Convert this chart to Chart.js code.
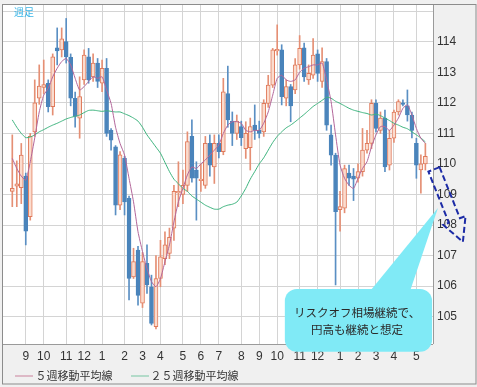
<!DOCTYPE html>
<html>
<head>
<meta charset="utf-8">
<script src="https://cdn.jsdelivr.net/npm/chart.js@4.4.0/dist/chart.umd.min.js"></script>
<style>
  html, body { margin: 0; padding: 0; background: #f0f0f0; }
  #wrap { width: 477px; height: 387px; }
</style>
</head>
<body>
<div id="wrap"><canvas id="c" width="477" height="387"></canvas></div>
<script>
// weekly USD/JPY candles, Aug 2017 - May 2019
const opens  = [109.1,109.27,109.22,109.6,108.27,111.05,112.15,112.5,112.64,111.87,113.8,113.73,114.0,113.49,112.15,111.5,112.75,113.5,112.85,113.3,
                112.64,113.13,111.1,110.56,108.65,110.18,108.87,106.3,107.18,105.44,106.75,105.98,104.67,106.25,106.9,107.07,107.9,109.05,109.0,109.3,
                110.9,109.8,109.45,109.3,110.67,109.9,110.67,110.4,112.3,111.4,111.0,111.22,110.5,110.53,111.27,111.1,111.05,111.98,112.58,113.7,
                113.73,112.15,112.53,112.42,113.24,113.8,112.75,112.9,113.6,112.7,113.35,110.95,110.29,108.5,108.55,109.7,109.6,109.53,109.75,110.45,
                110.67,111.98,111.1,111.5,109.96,110.84,111.7,112.0,111.9,111.6,110.67,109.8,110.0];
const highs  = [110.95,110.1,110.67,109.7,111.0,112.75,113.24,113.4,112.75,113.6,114.45,114.45,114.76,113.6,112.35,112.85,113.73,113.78,113.6,113.45,
                113.4,113.45,111.16,110.6,110.4,110.25,108.95,107.24,107.3,107.1,107.35,106.36,107.0,107.5,107.78,107.9,109.3,110.07,109.8,111.05,
                111.44,110.07,110.0,110.9,110.95,110.95,110.95,112.8,113.2,111.7,111.6,111.4,111.38,111.5,111.93,111.4,112.1,112.9,113.78,114.55,
                113.9,112.75,112.6,113.45,114.2,113.95,113.24,114.1,113.73,113.8,113.45,111.27,110.35,109.1,109.96,109.96,109.85,110.0,111.16,111.1,
                112.1,112.1,111.7,111.76,111.1,111.76,112.1,112.1,112.42,111.7,110.84,110.3,110.67];
const lows   = [108.6,108.6,108.7,107.35,108.16,110.9,111.95,112.3,111.7,111.6,113.24,113.5,113.3,111.9,111.2,110.84,112.6,112.64,112.7,112.5,
                112.36,110.9,110.45,108.33,108.5,108.33,105.55,106.25,105.38,105.3,105.76,104.73,104.6,105.98,106.7,106.9,107.5,108.6,108.7,109.1,
                109.4,108.16,109.1,109.2,109.6,109.36,110.2,110.3,111.2,110.6,110.8,110.6,110.18,109.8,110.8,110.85,110.9,111.85,112.5,113.56,
                111.93,111.9,111.38,112.3,113.1,112.7,112.6,112.8,112.7,112.5,111.1,109.96,106.04,107.8,108.4,109.3,108.8,109.4,109.6,110.35,
                110.5,111.05,111.0,109.75,109.8,110.7,111.6,111.9,111.4,110.85,109.53,109.04,109.8];
const closes = [109.2,109.35,110.29,107.8,110.9,112.0,112.55,112.6,111.87,113.5,113.7,114.09,113.5,112.15,111.55,112.2,113.56,112.75,113.3,112.7,
                113.13,111.0,110.78,108.65,110.3,108.76,106.25,106.8,105.7,106.8,106.04,104.78,106.25,106.96,107.35,107.6,109.1,109.1,109.3,110.73,
                109.53,109.53,109.5,110.67,109.96,110.67,110.4,112.36,111.44,111.0,111.4,110.86,111.0,111.22,111.1,111.0,111.98,112.58,113.73,113.75,
                112.2,112.53,111.9,113.24,113.78,112.85,112.96,113.56,112.96,113.35,111.27,110.29,108.44,108.6,109.85,109.53,109.5,109.75,110.45,110.67,
                111.98,111.16,111.5,109.9,110.84,111.7,112.04,111.95,111.6,111.1,109.96,110.0,110.25];

// moving averages as drawn
const ma5  = [110.18,109.85,109.6,109.47,110.07,110.85,111.7,112.25,112.47,112.85,113.13,113.35,113.45,113.24,112.8,112.42,112.53,112.7,112.85,112.8,
              112.85,112.42,111.98,111.2,110.67,110.29,109.53,108.76,107.78,107.13,106.58,106.15,105.98,106.25,106.8,107.35,108.1,108.76,109.2,109.64,
              109.9,109.85,110.0,110.13,110.29,110.45,110.62,111.0,111.27,111.38,111.38,111.33,111.1,111.05,111.1,111.1,111.33,111.7,112.25,112.8,
              112.9,112.75,112.7,112.75,113.0,113.13,113.18,113.24,113.24,113.3,112.75,112.04,110.95,109.96,109.53,109.3,109.2,109.53,109.85,110.07,
              110.56,110.95,111.22,111.22,111.1,111.27,111.5,111.82,111.93,111.6,111.16,110.84,110.67];
const ma25 = [111.44,111.2,111.0,110.86,110.88,110.95,111.05,111.12,111.2,111.27,111.33,111.4,111.47,111.52,111.56,111.6,111.68,111.75,111.76,111.74,
              111.72,111.74,111.72,111.7,111.7,111.64,111.58,111.5,111.4,111.2,110.95,110.75,110.55,110.35,110.05,109.75,109.5,109.35,109.2,109.1,
              108.95,108.85,108.75,108.65,108.58,108.52,108.52,108.6,108.65,108.68,108.75,108.95,109.2,109.5,109.75,110.0,110.2,110.45,110.7,110.9,
              111.05,111.18,111.27,111.38,111.5,111.62,111.75,111.88,111.98,112.08,112.18,112.15,112.05,111.98,111.9,111.82,111.76,111.72,111.68,111.65,
              111.6,111.63,111.58,111.5,111.42,111.33,111.27,111.2,111.15,111.05,110.95,110.85,110.72];

// x axis: first candle of each month and its label
const monthIdx = [3,7,12,16,20,25,29,33,38,42,46,51,55,59,64,68,73,77,81,85,90];
const monthLbl = ['9','10','11','12','1','2','3','4','5','6','7','8','9','10','11','12','1','2','3','4','5'];
const yTicks = [105,106,107,108,109,110,111,112,113,114,115];

const legendText = ['５週移動平均線', '２５週移動平均線'];
const noteLines = ['リスクオフ相場継続で、', '円高も継続と想定'];
const chartTag = '週足';

const UP_FILL = '#fbdcce', UP_LINE = '#e07a5b', DN = '#4a84bb';
const isUp = opens.map((o, i) => closes[i] >= o);

// annotation anchors in data units (candle index, price)
const note = { x0: 60.7, x1: 93.5, top: 105.91, bottom: 103.85, tx: 76.8, ty: [105.12, 104.57],
               baseL: 79.7, baseR: 88.6, tipX: 94.8, tipY: 108.56 };
const arrow = { x0: 93.92, y0: 109.82, x1: 100.36, y1: 107.45 };

const decor = {
  id: 'decor',
  beforeDraw(chart){
    const {ctx, chartArea: a} = chart;
    ctx.save();
    ctx.fillStyle = '#f0f0f0';
    ctx.fillRect(0, 0, chart.width, chart.height);
    ctx.fillStyle = '#ffffff';
    ctx.fillRect(a.left, a.top, a.right - a.left, a.bottom - a.top);
    ctx.restore();
  },
  afterDraw(chart){
    const {ctx, chartArea: a} = chart;
    const xs = chart.scales.x, ys = chart.scales.y;
    const X = v => xs.getPixelForValue(v), Y = v => ys.getPixelForValue(v);
    ctx.save();

    // frames
    ctx.lineWidth = 1;
    ctx.strokeStyle = '#8c8c8c';
    ctx.strokeRect(2.5, a.top - 0.5, chart.width - 3.5, 384 - a.top + 0.5);
    ctx.strokeStyle = '#9a9a9a';
    ctx.beginPath();
    ctx.moveTo(a.right + 0.5, a.top); ctx.lineTo(a.right + 0.5, a.bottom);
    ctx.moveTo(a.left, a.bottom + 0.5); ctx.lineTo(a.right, a.bottom + 0.5);
    ctx.stroke();

    // tag
    ctx.fillStyle = '#38b4e6';
    ctx.font = '10px "Noto Sans CJK JP"';
    ctx.textBaseline = 'middle';
    ctx.fillText(chartTag, 14, 12.5);

    // legend
    const lx = [15, 131], tx = [35.5, 150.5], lc = ['#d7a7b9', '#9fd5bc'];
    ctx.font = '11px "Noto Sans CJK JP"';
    legendText.forEach((t, i) => {
      ctx.strokeStyle = lc[i]; ctx.lineWidth = 1.5;
      ctx.beginPath(); ctx.moveTo(lx[i], 376); ctx.lineTo(lx[i] + 18, 376); ctx.stroke();
      ctx.fillStyle = '#333';
      ctx.fillText(t, tx[i], 376);
    });

    // dashed arrow
    const p0 = {x: X(arrow.x0), y: Y(arrow.y0)}, p1 = {x: X(arrow.x1), y: Y(arrow.y1)};
    const len = Math.hypot(p1.x - p0.x, p1.y - p0.y);
    const d = {x: (p1.x - p0.x) / len, y: (p1.y - p0.y) / len}, n = {x: -d.y, y: d.x};
    const at = (s, w) => [p0.x + d.x * s + n.x * w, p0.y + d.y * s + n.y * w];
    const sh = len - 23;
    const pts = [at(0, -6), at(0, 6), at(sh, 6), at(sh, 12), at(len, 0), at(sh, -12), at(sh, -6)];
    ctx.strokeStyle = '#1c2ba6'; ctx.lineWidth = 2; ctx.setLineDash([6, 3]);
    ctx.beginPath();
    pts.forEach((p, i) => i ? ctx.lineTo(p[0], p[1]) : ctx.moveTo(p[0], p[1]));
    ctx.closePath(); ctx.stroke();
    ctx.setLineDash([]);

    // speech bubble
    ctx.fillStyle = '#80eaf6';
    ctx.beginPath();
    ctx.moveTo(X(note.baseL), Y(note.top) + 2);
    ctx.lineTo(X(note.tipX), Y(note.tipY));
    ctx.lineTo(X(note.baseR), Y(note.top) + 2);
    ctx.closePath(); ctx.fill();
    ctx.beginPath();
    ctx.roundRect(X(note.x0), Y(note.top), X(note.x1) - X(note.x0), Y(note.bottom) - Y(note.top), 12);
    ctx.fill();
    ctx.fillStyle = '#2a2a2a';
    ctx.font = '11.5px "Noto Sans CJK JP"';
    ctx.textAlign = 'center';
    noteLines.forEach((t, i) => ctx.fillText(t, X(note.tx), Y(note.ty[i])));
    ctx.restore();
  }
};

new Chart(document.getElementById('c'), {
  data: {
    datasets: [
      { type: 'line', label: legendText[0], data: ma5.map((v, i) => ({x: i, y: v})),
        borderColor: '#b3669a', borderWidth: 1, pointRadius: 0, tension: 0.2, order: 0 },
      { type: 'line', label: legendText[1], data: ma25.map((v, i) => ({x: i, y: v})),
        borderColor: '#3db47e', borderWidth: 1, pointRadius: 0, tension: 0.2, order: 0 },
      { type: 'bar', label: 'body', data: opens.map((o, i) => ({x: i, y: [o, closes[i]]})),
        backgroundColor: isUp.map(u => u ? UP_FILL : DN), borderColor: isUp.map(u => u ? UP_LINE : DN),
        borderWidth: 1, borderSkipped: false, barThickness: 4, grouped: false, order: 1 },
      { type: 'bar', label: 'wick', data: lows.map((l, i) => ({x: i, y: [l, highs[i]]})),
        backgroundColor: isUp.map(u => u ? '#e58f74' : '#5a8fc3'),
        barThickness: 1, grouped: false, order: 2 }
    ]
  },
  options: {
    responsive: false,
    animation: false,
    layout: { padding: { left: 3, top: 5, right: 0, bottom: 23 } },
    plugins: { legend: { display: false }, tooltip: { enabled: false } },
    scales: {
      x: {
        type: 'linear', min: -2.07, max: 93.7, offset: false,
        afterBuildTicks: s => { s.ticks = monthIdx.map(v => ({value: v})); },
        afterFit: s => { s.height = 20; s.paddingLeft = 0; s.paddingRight = 0; },
        grid: { color: '#d4d4d4', drawTicks: false, offset: false },
        border: { display: false },
        ticks: { autoSkip: false, maxRotation: 0, padding: 5, color: '#333',
                 font: { family: 'Liberation Sans', size: 12 },
                 callback: v => monthLbl[monthIdx.indexOf(v)] }
      },
      y: {
        position: 'right', min: 104.107, max: 115.2,
        afterBuildTicks: s => { s.ticks = yTicks.map(v => ({value: v})); },
        afterFit: s => { s.width = 44; s.paddingTop = 0; s.paddingBottom = 0; },
        grid: { color: '#d4d4d4', drawTicks: false },
        border: { display: false },
        ticks: { padding: 4, color: '#333', font: { family: 'Liberation Sans', size: 12 },
                 callback: v => v === 115 ? '' : String(v) }
      }
    }
  },
  plugins: [decor]
});
</script>
</body>
</html>
